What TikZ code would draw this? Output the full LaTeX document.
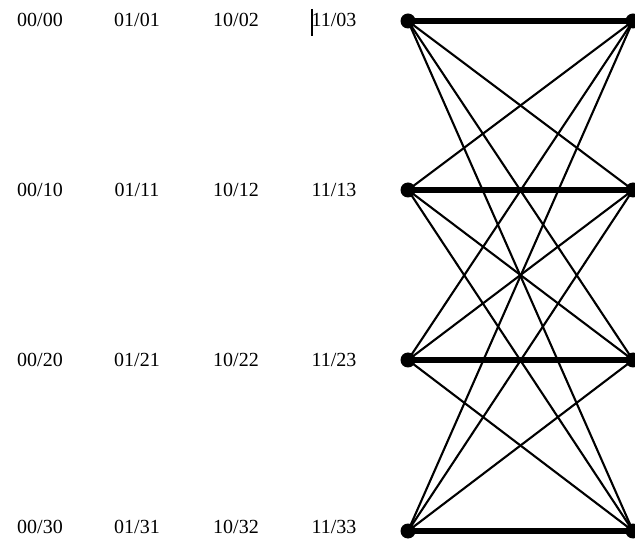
\documentclass[tikz,border=0pt]{standalone}
\usepackage{fontspec}
\setmainfont{Liberation Serif}
\begin{document}
\begin{tikzpicture}[x=1pt,y=-1pt,
  lbl/.style={font=\fontsize{20}{22}\selectfont, inner sep=0pt, anchor=center},
  vtx/.style={circle, fill=black, inner sep=0pt, minimum size=15pt},
  thin edge/.style={line width=2.1pt},
  thick edge/.style={line width=5.5pt}]
\useasboundingbox (0,0) rectangle (635,545);
% labels
\foreach \r/\y in {0/20,1/190,2/360,3/527}{
  \node[lbl] (a\r) at (40,\y) {00/\r0};
  \node[lbl] (b\r) at (137,\y) {01/\r1};
  \node[lbl] (c\r) at (236,\y) {10/\r2};
  \node[lbl] (d\r) at (334,\y) {11/\r3};
}
\coordinate (bar1) at (312,9);
\coordinate (bar2) at (312,36);
\draw[line width=1.8pt] (bar1) -- (bar2);
% vertices
\foreach \r/\y in {0/21,1/190,2/360,3/531}{
  \node[vtx] (L\r) at (408,\y) {};
  \node[vtx] (R\r) at (633,\y) {};
}
% edges
\foreach \i in {0,...,3}{
  \foreach \j in {0,...,3}{
    \ifnum\i=\j\relax
      \draw[thick edge] (L\i.center) -- (R\j.center);
    \else
      \draw[thin edge] (L\i.center) -- (R\j.center);
    \fi
  }
}
\end{tikzpicture}
\end{document}
